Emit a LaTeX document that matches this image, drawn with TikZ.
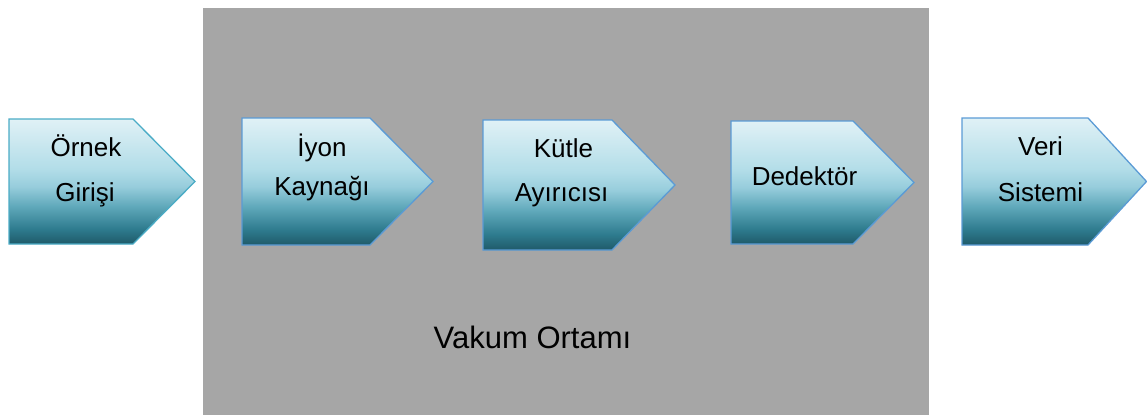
\documentclass[tikz,border=0pt]{standalone}
\usepackage{fontspec}
\setmainfont{Liberation Sans}
\definecolor{vacgray}{HTML}{A6A6A6}
\definecolor{edgeteal}{HTML}{4BACC6}
\definecolor{edgeblue}{HTML}{5B9BD5}
\definecolor{gA}{HTML}{1F5A69}
\definecolor{gB}{HTML}{2E7B8E}
\definecolor{gC}{HTML}{5FA8BA}
\definecolor{gD}{HTML}{97CDDC}
\definecolor{gE}{HTML}{B2DDE8}
\definecolor{gF}{HTML}{E0F1F6}
% vertical fill of the process arrows: dark teal at the bottom, pale at the top
\pgfdeclareverticalshading{stepfill}{100bp}{%
  color(0bp)=(gA); color(25bp)=(gA); color(31bp)=(gB); color(40bp)=(gC);
  color(48bp)=(gD); color(55bp)=(gE); color(75bp)=(gF); color(100bp)=(gF)}
\tikzset{
  stepshape/.style={shading=stepfill, draw=edgeblue, line width=1.3pt, line join=miter},
  steptext/.style={anchor=base, inner sep=0pt, font=\fontsize{26}{31}\selectfont},
  bigtext/.style={anchor=base, inner sep=0pt, font=\fontsize{31}{37}\selectfont}
}
% pentagon arrow: left x, notch x, tip x, top y, bottom y
\newcommand{\steparrow}[6][]{%
  \shade[stepshape,#1] (#2,#5) -- (#3,#5) -- (#4,{(#5+#6)/2}) -- (#3,#6) -- (#2,#6) -- cycle;}
\begin{document}
\begin{tikzpicture}[x=1pt,y=-1pt]
\useasboundingbox (0,0) rectangle (1147,415);
% vacuum chamber
\fill[vacgray] (203,8) rectangle (929,415);
\node[bigtext] (vac) at (532.5,348) {Vakum Ortamı};

\steparrow[draw=edgeteal]{9}{133}{195}{119}{244}
\steparrow{242}{370}{433}{118}{245}
\steparrow{483}{612}{675}{120}{250}
\steparrow{731}{853}{914}{121}{244}
\steparrow{962}{1088}{1146.5}{118}{245}

\node[steptext] (s1a) at (86,156) {Örnek};
\node[steptext] (s1b) at (85,201) {Girişi};
\node[steptext] (s2a) at (322,156) {İyon};
\node[steptext] (s2b) at (322,195) {Kaynağı};
\node[steptext] (s3a) at (563.5,157) {Kütle};
\node[steptext] (s3b) at (561.5,201) {Ayırıcısı};
\node[steptext] (s4) at (804.5,185) {Dedektör};
\node[steptext] (s5a) at (1040.5,155) {Veri};
\node[steptext] (s5b) at (1040.5,201) {Sistemi};
\end{tikzpicture}
\end{document}
